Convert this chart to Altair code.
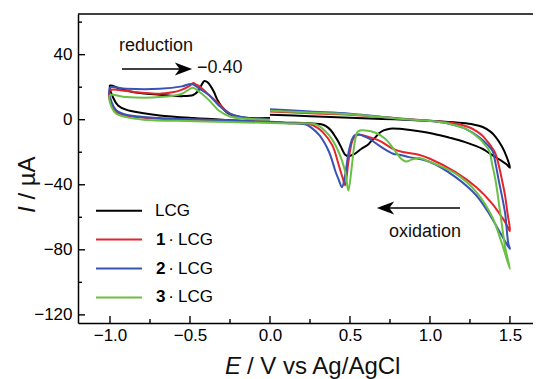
import altair as alt
import pandas as pd

FONT = "Liberation Sans, Arial, Helvetica, sans-serif"

series_names = ["LCG", "1·LCG", "2·LCG", "3·LCG"]
series_colors = ["#000000", "#e3262b", "#3953b5", "#6abf45"]

x_major = [-1.0, -0.5, 0.0, 0.5, 1.0, 1.5]
x_minor = [-0.75, -0.25, 0.25, 0.75, 1.25]
y_major = [-120, -80, -40, 0, 40]
y_minor = [-100, -60, -20, 20, 60]

# ---- LCG (black) : 0 V -> 1.5 V -> -1.0 V -> 0 V
lcg_E = [0.00, 0.25, 0.50, 0.70, 0.91, 1.05, 1.20, 1.27, 1.33, 1.38, 1.41, 1.45, 1.48, 1.50,
         1.48, 1.45, 1.41, 1.37, 1.33, 1.22, 1.12, 1.02, 0.91, 0.81, 0.75, 0.71, 0.68, 0.66, 0.63,
         0.61, 0.57, 0.53, 0.49, 0.47, 0.45, 0.43, 0.41, 0.38, 0.35, 0.32, 0.25, 0.10, 0.00,
         -0.27, -0.48, -0.69, -0.80, -0.90, -0.95, -0.98,
         -1.00, -0.95, -0.90, -0.80, -0.69, -0.55, -0.48, -0.45, -0.43, -0.41, -0.39, -0.37,
         -0.35, -0.33, -0.30, -0.27, -0.23, -0.15, 0.00]
lcg_I = [3.1, 2.2, 1.2, 0.5, -0.3, -1.0, -2.0, -2.9, -4.5, -7.5, -10.5, -16.5, -23.0, -29.5,
         -27.5, -25.5, -23.0, -20.5, -18.0, -13.8, -11.0, -8.6, -6.8, -5.6, -5.5, -6.6, -8.5, -10.7, -13.5,
         -15.6, -18.0, -21.0, -22.4, -21.5, -18.0, -14.0, -10.7, -6.5, -4.0, -2.8, -2.2, -1.8, -1.5,
         -0.2, 1.0, 2.6, 4.1, 6.2, 8.8, 13.5,
         21.0, 19.5, 18.0, 16.2, 15.4, 14.5, 15.2, 17.5, 21.0, 23.8, 23.0, 20.5,
         17.0, 12.5, 7.8, 4.5, 2.6, 1.2, 1.0]

# ---- 1·LCG (red)
r_E = [0.00, 0.25, 0.50, 0.81, 1.02, 1.17, 1.24, 1.29, 1.33, 1.36, 1.39, 1.41, 1.43, 1.45, 1.47, 1.485, 1.50,
       1.47, 1.45, 1.39, 1.29, 1.16, 1.00, 0.93, 0.83, 0.77, 0.68, 0.62, 0.55, 0.52, 0.49, 0.47, 0.455,
       0.43, 0.39, 0.33, 0.29, 0.256, 0.15, 0.00, -0.30, -0.69, -0.90, -0.96, -0.99,
       -1.00, -0.90, -0.80, -0.69, -0.60, -0.55, -0.50, -0.48, -0.46, -0.44, -0.39, -0.32, -0.25, -0.15, 0.00]
r_I = [5.0, 4.0, 3.0, 0.8, -0.8, -2.5, -4.5, -7.0, -10.0, -13.5, -17.5, -21.0, -28.0, -37.0, -47.0, -57.8, -68.5,
       -63.0, -60.0, -51.7, -41.5, -32.2, -24.0, -21.5, -19.9, -17.9, -12.7, -10.7, -9.2, -11.7, -26.0, -40.4, -36.0,
       -28.0, -15.8, -7.6, -4.5, -3.0, -2.2, -1.5, -0.3, 0.6, 2.6, 4.7, 8.8,
       18.0, 17.6, 16.6, 16.0, 17.0, 18.5, 21.0, 22.5, 21.5, 20.5, 16.0, 9.8, 3.7, 0.6, 0.0]

# ---- 2·LCG (blue)
b_E = [0.00, 0.25, 0.50, 0.81, 1.02, 1.12, 1.22, 1.31, 1.36, 1.39, 1.41, 1.43, 1.45, 1.47, 1.49, 1.50,
       1.485, 1.43, 1.37, 1.29, 1.16, 1.00, 0.87, 0.81, 0.77, 0.68, 0.62, 0.56, 0.527, 0.496, 0.47, 0.45,
       0.43, 0.41, 0.37, 0.31, 0.26, 0.225, 0.10, 0.00, -0.30, -0.69, -0.90, -0.96, -0.99,
       -1.00, -0.90, -0.69, -0.55, -0.49, -0.44, -0.38, -0.32, -0.25, -0.15, 0.00]
b_I = [6.5, 5.0, 3.7, 0.6, -1.0, -2.5, -5.5, -11.0, -15.5, -19.0, -27.0, -37.4, -47.0, -57.8, -76.3, -79.4,
       -77.4, -68.0, -57.8, -46.6, -35.3, -26.0, -23.0, -21.5, -20.9, -15.8, -11.7, -9.2, -9.7, -17.8, -34.0, -41.5,
       -37.0, -32.0, -20.0, -9.7, -5.0, -3.0, -2.0, -1.3, -0.2, 1.0, 3.1, 5.7, 10.8,
       19.7, 19.0, 19.0, 20.5, 22.0, 19.0, 15.0, 8.8, 3.7, 1.2, 0.0]

# ---- 3·LCG (green)
g_E = [0.00, 0.25, 0.50, 0.81, 1.02, 1.12, 1.22, 1.31, 1.34, 1.37, 1.39, 1.41, 1.44, 1.47, 1.50,
       1.45, 1.39, 1.29, 1.16, 1.00, 0.93, 0.89, 0.85, 0.82, 0.78, 0.72, 0.66, 0.60, 0.55, 0.53, 0.51,
       0.49, 0.47, 0.43, 0.37, 0.29, 0.15, 0.00, -0.47, -0.79, -0.90, -0.96, -0.99,
       -1.00, -0.90, -0.69, -0.55, -0.50, -0.48, -0.44, -0.38, -0.32, -0.25, -0.15, 0.00]
g_I = [5.5, 4.5, 3.3, 0.6, -1.0, -2.5, -5.5, -11.7, -15.0, -19.0, -28.0, -37.4, -57.8, -78.4, -91.7,
       -76.3, -60.0, -44.5, -33.2, -26.0, -23.6, -24.4, -25.7, -24.0, -18.9, -11.7, -8.0, -6.6, -7.2, -13.8, -30.0,
       -43.5, -32.0, -20.0, -9.7, -3.0, -2.3, -2.0, -0.9, 0.0, 1.6, 3.7, 7.8,
       15.0, 13.9, 13.9, 16.0, 19.0, 19.7, 17.0, 11.9, 5.7, 2.0, 0.6, 0.0]

rows = []
for name, E, I in zip(series_names, [lcg_E, r_E, b_E, g_E], [lcg_I, r_I, b_I, g_I]):
    for k, (e, i) in enumerate(zip(E, I)):
        rows.append({"series": name, "E": e, "I": i, "order": k})
df = pd.DataFrame(rows)

W, H = 455, 309
xscale = alt.Scale(domain=[-1.2, 1.644], nice=False, zero=False)
yscale = alt.Scale(domain=[-125, 65], nice=False, zero=False)
cscale = alt.Scale(domain=series_names, range=series_colors)

x_axis = alt.Axis(values=x_major, format=".1f", ticks=False, tickSize=0, title=None, grid=False,
                  labelFontSize=17, labelPadding=4, labelFont=FONT, labelColor="black",
                  domainColor="black", domainWidth=1.5)
y_axis = alt.Axis(values=y_major, format="d", ticks=False, tickSize=0, title=None, grid=False,
                  labelFontSize=17, labelPadding=6, labelFont=FONT, labelColor="black",
                  domainColor="black", domainWidth=1.5)

lines = alt.Chart(df).mark_line(strokeWidth=2, interpolate="catmull-rom").encode(
    x=alt.X("E:Q", scale=xscale, axis=x_axis),
    y=alt.Y("I:Q", scale=yscale, axis=y_axis),
    color=alt.Color("series:N", scale=cscale, legend=None, sort=series_names),
    order=alt.Order("order:Q"),
)

def xticks(vals, length):
    return alt.Chart(pd.DataFrame({"v": vals})).mark_rule(color="black", strokeWidth=1.4).encode(
        x=alt.X("v:Q", scale=xscale, axis=x_axis), y=alt.value(H), y2=alt.value(H - length))

def yticks(vals, length):
    return alt.Chart(pd.DataFrame({"v": vals})).mark_rule(color="black", strokeWidth=1.4).encode(
        y=alt.Y("v:Q", scale=yscale, axis=y_axis), x=alt.value(0), x2=alt.value(length))

def label(txt, x, y, size=18, style="normal", weight="normal", align="left", baseline="alphabetic", angle=0):
    kw = dict(fontSize=size, font=FONT, fontStyle=style, fontWeight=weight, align=align,
              baseline=baseline, color="#111111")
    if angle:
        kw["angle"] = angle
    return alt.Chart(pd.DataFrame({"t": [txt]})).mark_text(**kw).encode(
        text="t:N", x=alt.value(x), y=alt.value(y))

def hline(x1, x2, y, color="black", width=1.6):
    return alt.Chart(pd.DataFrame({"a": [0]})).mark_rule(color=color, strokeWidth=width).encode(
        x=alt.value(x1), x2=alt.value(x2), y=alt.value(y))

def head(x, y, right=True):
    shape = "M 1 0 L -1 -0.75 L -0.45 0 L -1 0.75 Z" if right else "M -1 0 L 1 -0.75 L 0.45 0 L 1 0.75 Z"
    return alt.Chart(pd.DataFrame({"a": [0]})).mark_point(
        shape=shape, size=300, filled=True, color="black", opacity=1, strokeWidth=0).encode(
        x=alt.value(x), y=alt.value(y))

# legend
leg = pd.DataFrame({
    "series": series_names,
    "idx": list(range(len(series_names))),
    "digit": [n.split("·")[0] if "·" in n else "" for n in series_names],
    "rest": [n.split("·")[-1] for n in series_names],
})
leg_base = alt.Chart(leg).transform_calculate(ypos="196.7 + 28.9 * datum.idx")
leg_lines = leg_base.mark_rule(strokeWidth=2).encode(
    x=alt.value(18), x2=alt.value(64), y=alt.Y("ypos:Q", scale=None),
    color=alt.Color("series:N", scale=cscale, legend=None))
leg_digits = leg_base.mark_text(fontSize=17, font=FONT, fontWeight="bold", align="left",
                                baseline="middle", color="black").encode(
    x=alt.value(78), y=alt.Y("ypos:Q", scale=None), text="digit:N")
leg_dots = leg_base.transform_filter("datum.digit != ''").mark_text(
    fontSize=17, font=FONT, align="center", baseline="middle", color="black", text="·").encode(
    x=alt.value(93), y=alt.Y("ypos:Q", scale=None))
leg_rest = leg_base.transform_calculate(lx="datum.digit == '' ? 77 : 100").mark_text(
    fontSize=17, font=FONT, align="left", baseline="middle", color="black").encode(
    x=alt.X("lx:Q", scale=None), y=alt.Y("ypos:Q", scale=None), text="rest:N")

layers = [
    lines,
    hline(0, W, 0, width=1.5),
    xticks(x_major, 7), xticks(x_minor, 4), yticks(y_major, 7), yticks(y_minor, 4),
    label("reduction", 41, 36.7),
    hline(44, 108, 55), head(105.5, 55, True),
    label("\u22120.40", 119, 54, baseline="middle"),
    hline(306, 382, 194), head(307.5, 194, False),
    label("oxidation", 311, 223),
    leg_lines, leg_digits, leg_dots, leg_rest,
    label("E", 147, 360, size=24, style="italic"),
    label("/ V vs Ag/AgCl", 169, 360, size=24),
    label("I", -43, 199, size=24, style="italic", angle=270),
    label("/ µA", -43, 185.6, size=24, angle=270),
]

chart = alt.layer(*layers).properties(
    width=W, height=H,
    padding={"left": 70, "top": 6, "right": 0, "bottom": 56},
    autosize=alt.AutoSizeParams(type="none"),
).configure_view(stroke="transparent").configure_axis(grid=False)

chart.save("out.html", embed_options={"renderer": "svg", "actions": False})
